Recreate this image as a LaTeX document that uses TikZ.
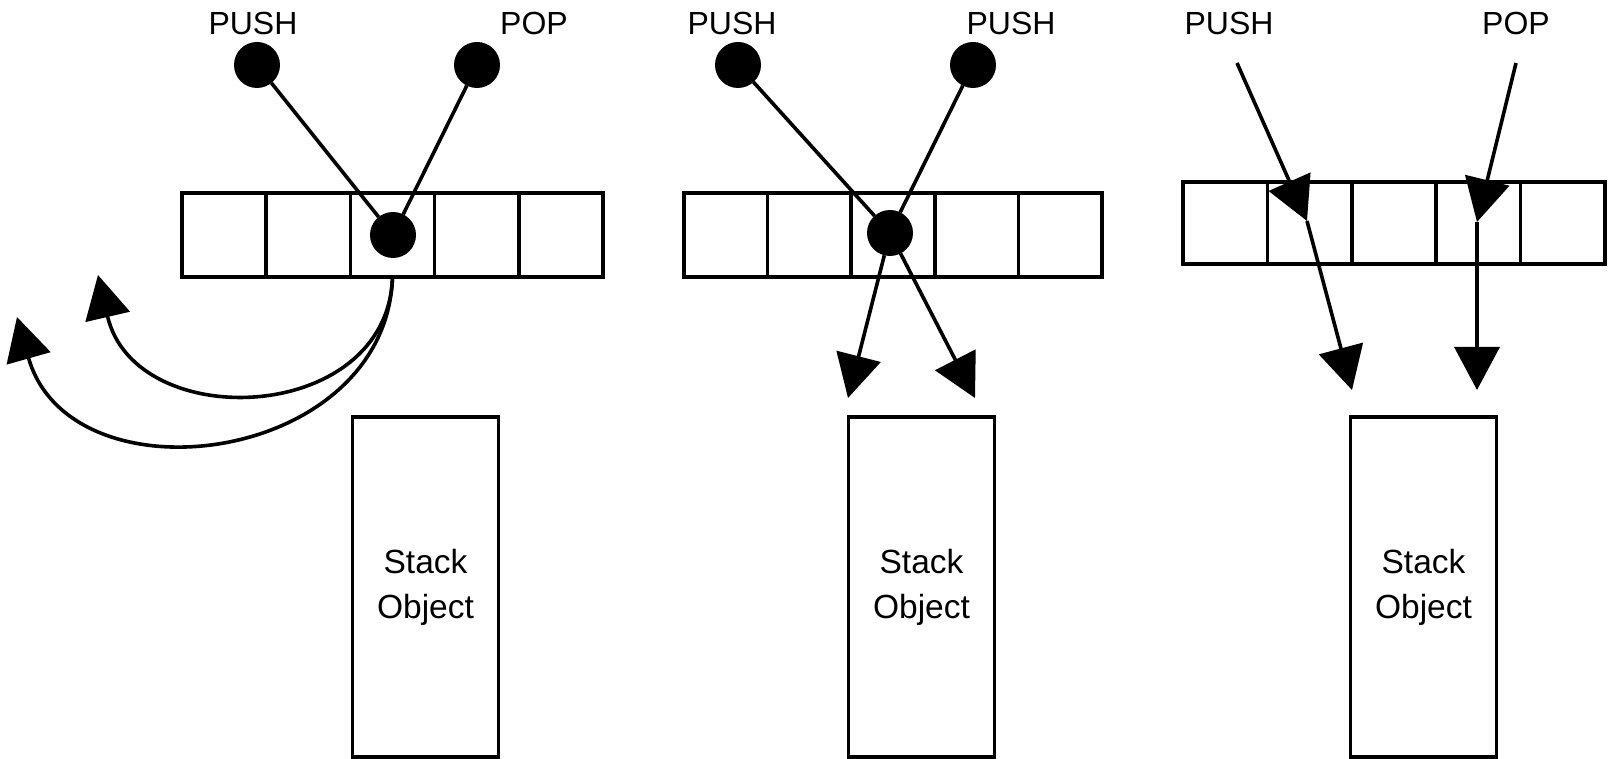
\documentclass[tikz,border=0pt]{standalone}
\usepackage{fontspec}
\setmainfont{Liberation Sans}
\usetikzlibrary{arrows.meta}
\begin{document}
\begin{tikzpicture}[x=1pt,y=-1pt,
  ln/.style={line width=3.6pt},
  cell/.style={draw, line width=3.6pt, minimum width=84.2pt, minimum height=84pt, inner sep=0pt, outer sep=0pt},
  dot/.style={circle, fill=black, minimum size=46pt, inner sep=0pt, outer sep=0pt},
  lbl/.style={font=\fontsize{32}{38}\selectfont, anchor=base, inner sep=0pt},
  stackbox/.style={draw, line width=3.6pt, minimum width=146pt, minimum height=340pt, inner sep=0pt, align=center, font=\fontsize{33.5}{45}\selectfont},
  arr/.style={line width=3.6pt, -{Triangle[length=43pt,width=45pt]}},
]
\useasboundingbox (0,0) rectangle (1610,759);

% ---------- Panel 1 ----------
\node[lbl] (l1a) at (253,35) {PUSH};
\node[lbl] (l1b) at (534,35) {POP};
\foreach \i/\x in {1/224.1,2/308.3,3/392.5,4/476.7,5/560.9}
  \node[cell] (c1\i) at (\x,235) {};
\node[dot] (p1a) at (257,65) {};
\node[dot] (p1b) at (477,65) {};
\node[dot] (d1) at (393,235) {};
\draw[ln] (p1a) -- (d1);
\draw[ln] (p1b) -- (d1);
\coordinate (t1a) at (98,275);
\coordinate (t1b) at (17,317);
\draw[arr] (c13.south) .. controls (388,425) and (135,435) .. (t1a);
\draw[arr] (c13.south) .. controls (386,465) and (70,505) .. (t1b);
\node[stackbox] (s1) at (425.5,587) {Stack\\Object};

% ---------- Panel 2 ----------
\node[lbl] (l2a) at (732,35) {PUSH};
\node[lbl] (l2b) at (1011,35) {PUSH};
\foreach \i/\x in {1/725.8,2/809.4,3/893,4/976.6,5/1060.2}
  \node[cell, minimum width=83.6pt] (c2\i) at (\x,235) {};
\node[dot] (p2a) at (738,65) {};
\node[dot] (p2b) at (973,65) {};
\node[dot] (d2) at (890,233) {};
\draw[ln] (p2a) -- (d2);
\draw[ln] (p2b) -- (d2);
\coordinate (t2a) at (848,398);
\coordinate (t2b) at (975,398);
\draw[arr] (d2) -- (t2a);
\draw[arr] (d2) -- (t2b);
\node[stackbox] (s2) at (921.5,587) {Stack\\Object};

% ---------- Panel 3 ----------
\node[lbl] (l3a) at (1229,35) {PUSH};
\node[lbl] (l3b) at (1516,35) {POP};
\foreach \i/\x in {1/1225.2,2/1309.6,3/1394,4/1478.4,5/1562.8}
  \node[cell, minimum width=84.4pt, minimum height=82pt] (c3\i) at (\x,223) {};
\coordinate (s3a) at (1237,63);
\coordinate (m3a) at (1307,221);
\coordinate (t3a) at (1352,390);
\coordinate (s3b) at (1516,63);
\coordinate (m3b) at (1477,222);
\coordinate (t3b) at (1477,390);
\draw[arr] (s3a) -- (m3a);
\draw[arr] (m3a) -- (t3a);
\draw[arr] (s3b) -- (m3b);
\draw[arr] (m3b) -- (t3b);
\node[stackbox] (s3) at (1423.5,587) {Stack\\Object};
\end{tikzpicture}
\end{document}
